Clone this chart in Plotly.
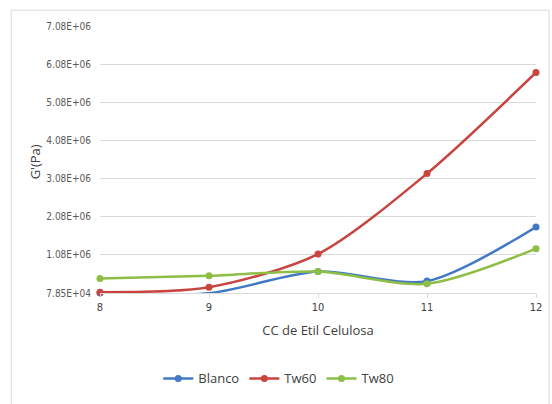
import plotly.graph_objects as go

x_cats = [8, 9, 10, 11, 12]
blanco = [80000, 75000, 640000, 390000, 1810000]
tw60 = [100000, 230000, 1100000, 3210000, 5860000]
tw80 = [460000, 530000, 640000, 320000, 1240000]

y_tickvals = [78500, 1078500, 2078500, 3078500, 4078500, 5078500, 6078500, 7078500]
y_ticktext = ["7.85E+04", "1.08E+06", "2.08E+06", "3.08E+06", "4.08E+06", "5.08E+06", "6.08E+06", "7.08E+06"]

series = [("Blanco", blanco, "#4279C6"), ("Tw60", tw60, "#C9433F"), ("Tw80", tw80, "#8DBE45")]

fig = go.Figure()
for name, vals, col in series:
    fig.add_trace(go.Scatter(
        x=x_cats, y=vals, name=name, mode="lines+markers",
        line=dict(color=col, width=2.5, shape="spline", smoothing=0.8),
        marker=dict(color=col, size=7),
        cliponaxis=False,
    ))

font_fam = "DejaVu Sans Condensed, Liberation Sans Narrow, Arial, sans-serif"

fig.update_layout(
    width=552, height=404,
    margin=dict(l=100, r=10, t=26, b=108),
    paper_bgcolor="white", plot_bgcolor="white",
    font=dict(family=font_fam, color="#595959", size=10),
    showlegend=True,
    legend=dict(orientation="h", x=0.41, xanchor="center", y=-0.32, yanchor="middle",
                font=dict(size=13, color="#404040", family="Open Sans, Arial, sans-serif"),
                itemwidth=30, tracegroupgap=0),
    xaxis=dict(
        range=[8, 12], tickvals=x_cats, ticktext=[str(v) for v in x_cats],
        showgrid=False, showline=True, linecolor="#D9D9D9", linewidth=1,
        ticks="outside", ticklen=4, tickcolor="#D9D9D9",
        tickfont=dict(size=11, color="#404040"),
        title=dict(text="CC de Etil Celulosa", font=dict(size=13, color="#404040", family="Open Sans, Arial, sans-serif"), standoff=12),
        zeroline=False,
    ),
    yaxis=dict(
        range=[78500, 7078500], tickvals=y_tickvals, ticktext=y_ticktext,
        showgrid=True, gridcolor="#D9D9D9", gridwidth=1,
        showline=False, zeroline=False, ticks="", ticklabelstandoff=8,
        tickfont=dict(size=10, color="#595959"),
    ),
    shapes=[dict(type="rect", xref="paper", yref="paper",
                 x0=-90/442, x1=1.03, y0=-0.5, y1=1 + 16/270,
                 line=dict(color="#D9D9D9", width=1), fillcolor="rgba(0,0,0,0)", layer="below")],
    annotations=[dict(text="G'(Pa)", xref="paper", yref="paper", x=-65/442, y=(296-163)/270,
                      textangle=-90, showarrow=False, xanchor="center", yanchor="middle",
                      font=dict(size=13, color="#404040", family="Open Sans, Arial, sans-serif"))],
)

fig.write_html("out.html", config={"displayModeBar": False},
               post_script="document.body.style.margin='0';document.body.style.overflow='hidden';")
